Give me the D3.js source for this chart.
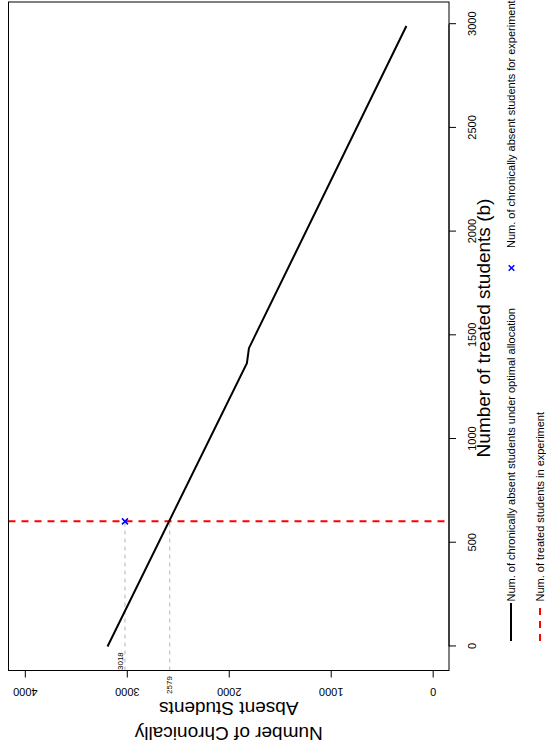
<!DOCTYPE html>
<html>
<head>
<meta charset="utf-8">
<script src="https://cdn.jsdelivr.net/npm/d3@7"></script>
<style>
  html, body { margin: 0; padding: 0; background: #fff; }
  svg { display: block; font-family: "Liberation Sans", Arial, sans-serif; }
</style>
</head>
<body>
<script>
// Number of treated students (b) at the breakpoints of the optimal curve
const treatedStudents = [0, 1366, 1438, 2991];
// Chronically absent students under the optimal allocation at those budgets
const absentOptimal = [3189, 1822, 1802, 258];
// The experiment: treated count and the absent count it produced
const experimentTreated = [603];
const experimentAbsent = [3018];
// Optimal-allocation absent count at the experiment's budget
const optimalAtExperiment = [2579];
const xTicks = [0, 500, 1000, 1500, 2000, 2500, 3000];
const yTicks = [0, 1000, 2000, 3000, 4000];
const legendLabels = [
  "Num. of chronically absent students under optimal allocation",
  "Num. of chronically absent students for experiment",
  "Num. of treated students in experiment"
];

const W = 546, H = 747;       // page size

const svg = d3.select("body").append("svg")
  .attr("width", W).attr("height", H);

// Landscape plot rotated a quarter-turn counter-clockwise onto the page
const g = svg.append("g")
  .attr("transform", `translate(0,${H}) rotate(-90)`);

const pLeft = 76.5, pRight = 745, pTop = 8.5, pBottom = 449;

const x = d3.scaleLinear().domain([-116, 3107]).range([pLeft, pRight]);
const y = d3.scaleLinear().domain([-160, 4160]).range([pBottom, pTop]);

// clip for lines that span the plotting region
g.append("clipPath").attr("id", "plotclip")
  .append("rect").attr("x", pLeft).attr("y", pTop)
  .attr("width", pRight - pLeft).attr("height", pBottom - pTop);

// Reference guides at the experiment's values
const guides = g.append("g").attr("clip-path", "url(#plotclip)");
[experimentAbsent[0], optimalAtExperiment[0]].forEach(v => {
  guides.append("line")
    .attr("x1", pLeft).attr("x2", x(experimentTreated[0]))
    .attr("y1", y(v)).attr("y2", y(v))
    .attr("stroke", "#b4b4b4").attr("stroke-width", 1)
    .attr("stroke-dasharray", "4,4");
});

// Optimal-allocation curve
const pts = treatedStudents.map((b, i) => [b, absentOptimal[i]]);
g.append("path")
  .datum(pts)
  .attr("fill", "none")
  .attr("stroke", "#000")
  .attr("stroke-width", 2)
  .attr("d", d3.line().x(d => x(d[0])).y(d => y(d[1])));

// Vertical line at the experiment's treated count
guides.append("line")
  .attr("x1", x(experimentTreated[0])).attr("x2", x(experimentTreated[0]))
  .attr("y1", pTop).attr("y2", pBottom)
  .attr("stroke", "#ff0000").attr("stroke-width", 2)
  .attr("stroke-dasharray", "7,6");

// Cross marker for the experiment outcome
function cross(sel, cx, cy, r) {
  sel.append("path")
    .attr("d", `M${cx - r},${cy - r}L${cx + r},${cy + r}M${cx - r},${cy + r}L${cx + r},${cy - r}`)
    .attr("stroke", "#0000ff").attr("stroke-width", 1.5).attr("fill", "none");
}
cross(g, x(experimentTreated[0]), y(experimentAbsent[0]), 3);

// Value labels for the guide lines
g.append("text")
  .attr("x", pLeft + 0.5).attr("y", y(experimentAbsent[0]) - 2)
  .attr("font-size", 8).attr("fill", "#000")
  .text(experimentAbsent[0]);
g.append("text")
  .attr("x", 62).attr("y", y(optimalAtExperiment[0]) + 2.5)
  .attr("text-anchor", "middle")
  .attr("font-size", 8).attr("fill", "#000")
  .text(optimalAtExperiment[0]);

// Plot frame
g.append("rect")
  .attr("x", pLeft).attr("y", pTop)
  .attr("width", pRight - pLeft).attr("height", pBottom - pTop)
  .attr("fill", "none").attr("stroke", "#000").attr("stroke-width", 1);

// Horizontal axis: treated students
const xAxis = g.append("g")
  .attr("transform", `translate(0,${pBottom})`)
  .call(d3.axisBottom(x).tickValues(xTicks).tickSize(7).tickSizeOuter(0).tickFormat(d3.format("d")));
xAxis.select(".domain").remove();
xAxis.append("line")
  .attr("x1", x(xTicks[0])).attr("x2", x(xTicks[xTicks.length - 1]))
  .attr("stroke", "#000");
xAxis.selectAll(".tick line").attr("stroke", "#000");
xAxis.selectAll(".tick text")
  .attr("y", 26.5).attr("dy", 0)
  .attr("font-size", 11).attr("fill", "#000")
  .attr("font-family", "Liberation Sans, Arial, sans-serif");

// Vertical axis: chronically absent students
const yAxis = g.append("g")
  .attr("transform", `translate(${pLeft},0)`)
  .call(d3.axisLeft(y).tickValues(yTicks).tickSize(7).tickSizeOuter(0).tickFormat(d3.format("d")));
yAxis.select(".domain").remove();
yAxis.append("line")
  .attr("y1", y(yTicks[0])).attr("y2", y(yTicks[yTicks.length - 1]))
  .attr("stroke", "#000");
yAxis.selectAll(".tick line").attr("stroke", "#000");
yAxis.selectAll(".tick text")
  .attr("x", 0).attr("dy", 0)
  .attr("transform", "translate(-17,0) rotate(-90)")
  .attr("text-anchor", "middle")
  .attr("font-size", 11).attr("fill", "#000")
  .attr("font-family", "Liberation Sans, Arial, sans-serif");

// Axis titles
g.append("text")
  .attr("x", 419).attr("y", 490)
  .attr("text-anchor", "middle")
  .attr("font-size", 19)
  .text("Number of treated students (b)");

const ytitle = g.append("text")
  .attr("transform", `translate(0,${(pTop + pBottom) / 2}) rotate(-90)`)
  .attr("text-anchor", "middle")
  .attr("font-size", 19);
ytitle.append("tspan").attr("x", 0).attr("y", 20.5).text("Number of Chronically");
ytitle.append("tspan").attr("x", 0).attr("y", 45.5).text("Absent Students");

// Legend below the plot
const leg = g.append("g").attr("font-size", 11);
leg.append("line")
  .attr("x1", 106).attr("x2", 144).attr("y1", 511).attr("y2", 511)
  .attr("stroke", "#000").attr("stroke-width", 2);
leg.append("text").attr("x", 145.5).attr("y", 511).attr("dy", "0.35em").text(legendLabels[0]);
cross(leg, 479, 511.5, 2.8);
leg.append("text").attr("x", 499).attr("y", 511).attr("dy", "0.35em").text(legendLabels[1]);
leg.append("line")
  .attr("x1", 106).attr("x2", 144).attr("y1", 540).attr("y2", 540)
  .attr("stroke", "#ff0000").attr("stroke-width", 2)
  .attr("stroke-dasharray", "7,6");
leg.append("text").attr("x", 145.5).attr("y", 540).attr("dy", "0.35em").text(legendLabels[2]);
</script>
</body>
</html>
